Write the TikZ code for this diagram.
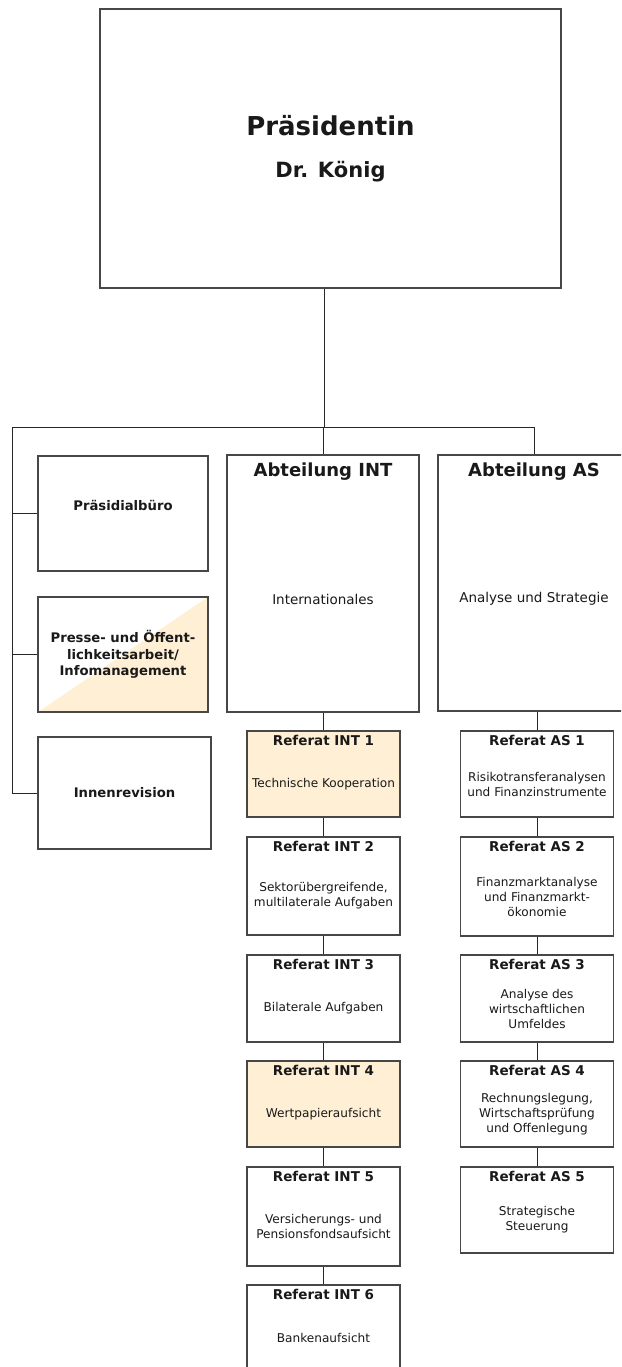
\documentclass[tikz,border=0pt]{standalone}
\usepackage{fontspec}
\setmainfont{DejaVu Sans}
\definecolor{refbeige}{HTML}{FFF0D5}

\begin{document}
\begin{tikzpicture}[x=1pt,y=-1pt,
  box/.style={draw=black!72, line width=1.2pt, inner sep=0pt, fill=white},
  refbox/.style={box, minimum width=153},
  link/.style={draw=black!85, line width=1pt},
  reftitle/.style={anchor=base, inner sep=0pt, text=black!90, font=\bfseries\fontsize{13.5}{16}\selectfont},
  reftext/.style={align=center, inner sep=0pt, text=black!90, font=\fontsize{12.1}{15}\selectfont},
  stafftext/.style={align=center, inner sep=0pt, text=black!90, font=\bfseries\fontsize{13.2}{16.5}\selectfont},
  depttitle/.style={anchor=base, inner sep=0pt, text=black!90, font=\bfseries\fontsize{18}{22}\selectfont},
  depttext/.style={inner sep=0pt, text=black!90, font=\fontsize{13.5}{16}\selectfont}]
\useasboundingbox (0,0) rectangle (621,1367);
\clip (0,0) rectangle (621,1367);

% Leitung
\node[box, minimum width=461, minimum height=279] (praes) at (330.5,148.5) {};
\node[anchor=base, text=black!90, font=\bfseries\fontsize{26}{30}\selectfont] at ([yshift=12.5pt]praes.center) {Präsidentin};
\node[anchor=base, text=black!90, font=\bfseries\fontsize{21}{25}\selectfont] at ([yshift=-29.5pt]praes.center) {Dr. König};

% Stabsstellen
\node[box, minimum width=170, minimum height=115] (buero) at (123,513.5) {};
\node[stafftext] at ([yshift=8pt]buero.center) {Präsidialbüro};
\node[box, minimum width=170, minimum height=115,
  path picture={\fill[refbeige] (path picture bounding box.south west) -- (path picture bounding box.south east) -- (path picture bounding box.north east) -- cycle;}] (presse) at (123,654.5) {};
\node[stafftext] at (presse.center) {Presse- und Öffent-\\lichkeitsarbeit/\\Infomanagement};
\node[box, minimum width=173, minimum height=112] (revision) at (124.5,793) {};
\node[stafftext] at (revision.center) {Innenrevision};

% Abteilungen
\node[box, minimum width=192, minimum height=257] (intdept) at (323,583.5) {};
\node[depttitle] at ([yshift=-22pt]intdept.north) {Abteilung INT};
\node[depttext] at ([yshift=-15.5pt]intdept.center) {Internationales};
\node[box, minimum width=192, minimum height=256] (asdept) at (534,583) {};
\node[depttitle] at ([yshift=-22pt]asdept.north) {Abteilung AS};
\node[depttext] at ([yshift=-15.5pt]asdept.center) {Analyse und Strategie};

% Referate
\foreach \k/\y/\h/\c/\t in {
  1/774/86/refbeige/{Technische Kooperation},
  2/886/98/white/{Sektorübergreifende,\\multilaterale Aufgaben},
  3/998.5/87/white/{Bilaterale Aufgaben},
  4/1104/86/refbeige/{Wertpapieraufsicht},
  5/1216.5/99/white/{Versicherungs- und\\Pensionsfondsaufsicht},
  6/1328/86/white/{Bankenaufsicht}}{
  \node[refbox, fill=\c, minimum height=\h] (int\k) at (323.5,\y) {};
  \node[reftitle] at ([yshift=-15.5pt]int\k.north) {Referat INT \k};
  \node[reftext] at ([yshift=-10pt]int\k.center) {\t};
}
\foreach \k/\y/\h/\t in {
  1/774/86/{Risikotransferanalysen\\und Finanzinstrumente},
  2/886.5/99/{Finanzmarktanalyse\\und Finanzmarkt-\\ökonomie},
  3/998.5/87/{Analyse des\\wirtschaftlichen\\Umfeldes},
  4/1104/86/{Rechnungslegung,\\Wirtschaftsprüfung\\und Offenlegung},
  5/1210/86/{Strategische\\Steuerung}}{
  \node[refbox, minimum height=\h] (as\k) at (537,\y) {};
  \node[reftitle] at ([yshift=-15.5pt]as\k.north) {Referat AS \k};
  \node[reftext] at ([yshift=-10pt]as\k.center) {\t};
}

% Verbindungen
\coordinate (jn) at (324,427);
\coordinate (lft) at (12,427);
\draw[link] (jn |- praes.south) -- (jn);
\draw[link] (lft) -- (jn -| asdept.north) -- (asdept.north);
\draw[link] (intdept.north |- jn) -- (intdept.north);
\draw[link] (lft) -- (lft |- revision.west) -- (revision.west);
\draw[link] (lft |- buero.west) -- (buero.west);
\draw[link] (lft |- presse.west) -- (presse.west);
\draw[link] (intdept.south -| int1.north) -- (int1.north);
\draw[link] (asdept.south -| as1.north) -- (as1.north);
\foreach \a/\b in {1/2,2/3,3/4,4/5,5/6} \draw[link] (int\a) -- (int\b);
\foreach \a/\b in {1/2,2/3,3/4,4/5} \draw[link] (as\a) -- (as\b);
\end{tikzpicture}
\end{document}
